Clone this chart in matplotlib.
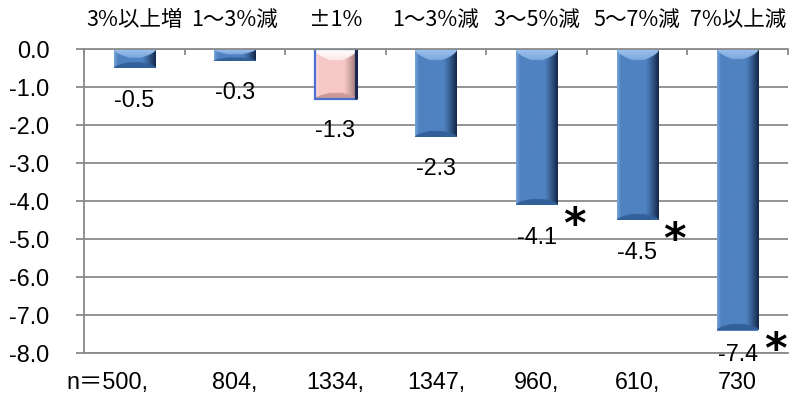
import numpy as np
import matplotlib
matplotlib.use("Agg")
import matplotlib.pyplot as plt
from matplotlib.colors import to_rgb
from matplotlib.patches import Rectangle

plt.rcParams['font.family'] = ['Liberation Sans', 'Noto Sans CJK JP', 'DejaVu Sans']
plt.rcParams['axes.unicode_minus'] = False

# ---- data -------------------------------------------------------------
groups = ["3%以上増", "1～3%減", "±1%", "1～3%減", "3～5%減", "5～7%減", "7%以上減"]
change = [-0.5, -0.3, -1.3, -2.3, -4.1, -4.5, -7.4]
sample_n = ["n＝500,", "804,", "1334,", "1347,", "960,", "610,", "730"]
significant = [False, False, False, False, True, True, True]
base_group = 2          # the ±1% group is the reference bar
y_ticks = [0, -1, -2, -3, -4, -5, -6, -7, -8]

# ---- colours ----------------------------------------------------------
GRID = "#8a8a8a"
BLUE = dict(face="#4f82c0", light="#7aa5dc", dark="#102444",
            top="#9cc2f0", bottom="#33609a")
PINK = dict(face="#f7c9c7", light="#fde4e3", dark="#93706f",
            top="#ffffff", bottom="#cc9a98")


def bevel_image(h, w, pal, top_d, bot_d, left_w, right_w, side_d):
    """RGB array that shades a bar like a bevelled block."""
    face = np.array(to_rgb(pal["face"]))
    light = np.array(to_rgb(pal["light"]))
    dark = np.array(to_rgb(pal["dark"]))
    top = np.array(to_rgb(pal["top"]))
    bottom = np.array(to_rgb(pal["bottom"]))

    r = (np.arange(h)[:, None] + 0.5) * np.ones((1, w))
    c = np.ones((h, 1)) * (np.arange(w)[None, :] + 0.5)

    tl = np.clip(c / left_w, 0, 1)[..., None]
    tr = np.clip((w - c) / right_w, 0, 1)[..., None]
    img = light * (1 - tl) + face * tl
    s = (1 - tr) ** 1.2
    img = img * (1 - s) + dark * s

    d = np.minimum(c, w - c)
    lim = np.sqrt(np.clip(d / side_d, 0, 1))
    in_top = r < top_d * lim
    k = np.clip(r / max(top_d, 1), 0, 1)[..., None]
    top_col = top * (1 - 0.4 * k) + face * 0.4 * k
    img = np.where(in_top[..., None], top_col, img)

    rb = h - r
    in_bot = rb < bot_d * lim
    img = np.where(in_bot[..., None], bottom, img)
    return np.clip(img, 0, 1)


fig = plt.figure(figsize=(7.92, 3.93), dpi=100)
ax = fig.add_axes([84 / 792, 1 - 353.3 / 393, (788 - 84) / 792, 304 / 393])

x = np.arange(len(groups))
palettes = [PINK if i == base_group else BLUE for i in x]
bars = ax.bar(x, change, width=0.41,
              color=[p["face"] for p in palettes], zorder=3)

ax.set_xlim(-0.5, len(groups) - 0.5)
ax.set_ylim(-8, 0)

# pixel scale of the data axes (used for bevel sizes and label spacing)
px_per_x = (788 - 84) / len(groups)
px_per_y = 304 / 8
PT = 72 / 100           # points per pixel at 100 dpi
SS = 3                  # supersampling

for bar, pal in zip(bars, palettes):
    x0 = bar.get_x()
    w_data = bar.get_width()
    v = bar.get_height()
    h_px = max(int(round(abs(v) * px_per_y * SS)), 2)
    w_px = int(round(w_data * px_per_x * SS))
    top_d = min(11 * SS, h_px * 0.45)
    bot_d = min(6 * SS, h_px * 0.3)
    img = bevel_image(h_px, w_px, pal, top_d, bot_d,
                      left_w=4 * SS, right_w=13 * SS, side_d=15 * SS)
    im = ax.imshow(img, extent=(x0, x0 + w_data, v, 0), origin="upper",
                   aspect="auto", interpolation="bilinear", zorder=3.5)
    im.set_clip_path(bar)
    if pal is PINK:
        ax.add_patch(Rectangle((x0, 0), w_data, v, fill=False,
                               edgecolor="#4a6fd0", linewidth=1.6, zorder=4))
        ax.plot([x0 + w_data, x0 + w_data], [0, v], color="#1b2550",
                linewidth=2.2, zorder=4.1, solid_capstyle="butt")

ax.set_xlim(-0.5, len(groups) - 0.5)
ax.set_ylim(-8, 0)

# ---- axes styling -----------------------------------------------------
ax.set_yticks(y_ticks)
ax.set_yticklabels([f"{t:.1f}" for t in y_ticks], fontsize=16.8)
ax.yaxis.grid(True, color=GRID, linewidth=1.3, zorder=1)
ax.set_axisbelow(True)
ax.tick_params(axis="y", direction="out", length=6, width=1.3,
               color=GRID, pad=19)

ax.xaxis.tick_top()
ax.set_xticks(np.arange(len(groups) + 1) - 0.5)
ax.set_xticklabels([])
ax.tick_params(axis="x", direction="in", length=4.5, width=1.3, color=GRID)

ax.spines["right"].set_visible(False)
for side in ("left", "top", "bottom"):
    ax.spines[side].set_color(GRID)
    ax.spines[side].set_linewidth(1.3)
ax.spines["top"].set_zorder(5)

# group names above the zero line
for i, g in enumerate(groups):
    ax.annotate(g, xy=(i, 1), xycoords=("data", "axes fraction"),
                xytext=(0, 21), textcoords="offset points",
                ha="center", va="center", fontsize=15.5,
                family=["Noto Sans CJK JP", "DejaVu Sans"])

# sample sizes below the plot
for i, n in enumerate(sample_n):
    dx = -19 if i == 0 else 0
    ax.annotate(n, xy=(i, 0), xycoords=("data", "axes fraction"),
                xytext=(dx, -21), textcoords="offset points",
                ha="center", va="center", fontsize=16.8,
                family=["Liberation Sans", "Noto Sans CJK JP"])

# value labels under each bar, with a mark for significant differences;
# labels near the bottom of the axis are pulled up closer to the bar end
y_min = ax.get_ylim()[0]
for i, (v, sig) in enumerate(zip(change, significant)):
    gap_px = min(32, (v - y_min) * px_per_y + 1.5)
    ax.annotate(f"{v:.1f}", xy=(i, v), xytext=(0, -gap_px * PT),
                textcoords="offset points", ha="center", va="center",
                fontsize=16.8, zorder=6)
    if sig:
        ax.annotate("*", xy=(i, v), xytext=(27, -15),
                    textcoords="offset points", ha="center", va="center",
                    fontsize=31, fontweight="bold", zorder=6,
                    family=["DejaVu Sans"])

fig.savefig("out.png", dpi=100)
